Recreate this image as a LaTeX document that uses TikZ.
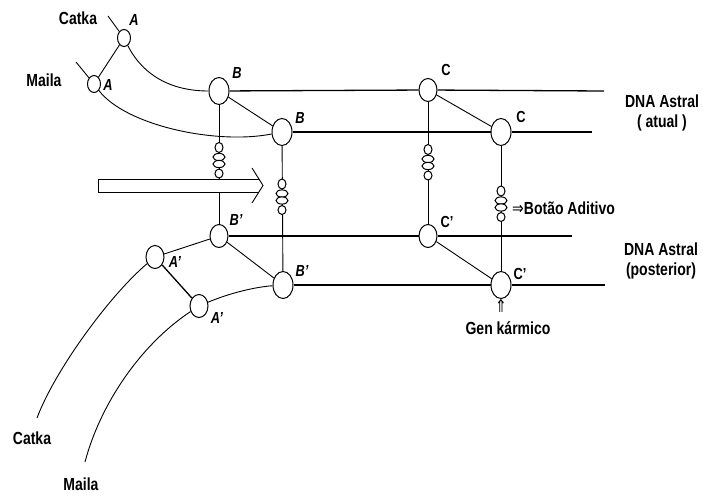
\documentclass[tikz,border=0pt]{standalone}
\usepackage{fontspec}
\setmainfont{Liberation Sans}[FakeStretch=0.8]
\newfontfamily\arrowfont{DejaVu Sans}[FakeStretch=0.8]
\usepackage{tikz}
\usetikzlibrary{shapes.geometric,positioning}
\tikzset{
  knot/.style={ellipse,draw,fill=white,line width=1pt,
    minimum width=18pt,minimum height=23pt,inner sep=0pt},
  bigknot/.style={knot,minimum width=20pt,minimum height=27pt},
  smallknot/.style={knot,minimum width=13pt,minimum height=17pt},
  strand/.style={line width=1.3pt},
  thinstrand/.style={line width=0.9pt},
  bead/.style={draw,fill=white,line width=1pt},
  lbl/.style={font=\fontsize{16}{18}\selectfont\bfseries\itshape,inner sep=0pt},
  clbl/.style={font=\fontsize{16}{18}\selectfont\bfseries,inner sep=0pt},
  txt/.style={font=\fontsize{17.5}{20}\selectfont\bfseries,align=center,inner sep=0pt},
}

\begin{document}
\begin{tikzpicture}[x=1pt,y=-1pt]
  \useasboundingbox (0,0) rectangle (703,495);

  \node[smallknot] (catkaA) at (124,38) {};
  \node[smallknot] (mailaA) at (94,84)  {};
  \node[bigknot]   (B1)     at (219,91) {};
  \node[bigknot]   (B2)     at (282,132) {};
  \node[knot]      (C1)     at (428,90) {};
  \node[bigknot]   (C2)     at (501,132) {};
  \node[knot]      (Bp1)    at (219,236) {};
  \node[bigknot]   (Bp2)    at (283,285) {};
  \node[knot]      (Ap1)    at (155,257) {};
  \node[knot]      (Ap2)    at (199,306) {};
  \node[knot]      (Cp1)    at (428,236) {};
  \node[bigknot]   (Cp2)    at (501,285) {};

  \coordinate (catkaEnd)  at (108,16);
  \coordinate (mailaEnd)  at (76,62);
  \coordinate (catkaTail) at (37,418);
  \coordinate (mailaTail) at (85,462);
  \coordinate (rowOneEnd)   at (604,91);
  \coordinate (rowTwoEnd)   at (592,132);
  \coordinate (rowThreeEnd) at (572,236);
  \coordinate (rowFourEnd)  at (605,285);

  \draw[thinstrand] (catkaEnd) -- (catkaA);
  \draw[thinstrand] (mailaEnd) -- (mailaA);
  \draw[thinstrand] (catkaA) -- (mailaA);
  \draw[thinstrand] (catkaA) .. controls (140,70) and (165,91) .. (B1);
  \draw[thinstrand] (mailaA) .. controls (125,125) and (215,145) .. (B2);
  \draw[thinstrand] (Ap1) .. controls (110,295) and (55,370) .. (catkaTail);
  \draw[thinstrand] (Ap2) .. controls (140,345) and (100,405) .. (mailaTail);

  \draw[strand] (B1) -- (C1);
  \draw[strand] (C1) -- (rowOneEnd);
  \draw[strand] (B2) -- (C2);
  \draw[strand] (C2) -- (rowTwoEnd);
  \draw[strand] (Bp1) -- (Cp1);
  \draw[strand] (Cp1) -- (rowThreeEnd);
  \draw[strand] (Bp2) -- (Cp2);
  \draw[strand] (Cp2) -- (rowFourEnd);

  \draw[thinstrand] (B1) -- (B2);
  \draw[thinstrand] (C1) -- (C2);
  \draw[thinstrand] (Bp1) -- (Bp2);
  \draw[thinstrand] (Cp1) -- (Cp2);
  \draw[strand] (Ap1) -- (Ap2);
  \draw[thinstrand] (Ap1) -- (Bp1);
  \draw[thinstrand] (Ap2) .. controls (230,293) and (255,287) .. (Bp2);

  \draw[thinstrand] (B1) -- (Bp1);
  \draw[thinstrand] (B2) -- (Bp2);
  \draw[thinstrand] (C1) -- (Cp1);
  \draw[thinstrand] (C2) -- (Cp2);

  \foreach \bx/\by in {219/160.5, 282/197, 428/162.5, 501/204}{
    \draw[bead] ({\bx},{\by-13}) ellipse [x radius=4pt,y radius=5pt];
    \draw[bead] ({\bx},{\by-3.5}) ellipse [x radius=6pt,y radius=3.6pt];
    \draw[bead] ({\bx},{\by+3.5}) ellipse [x radius=6pt,y radius=3.6pt];
    \draw[bead] ({\bx},{\by+13}) ellipse [x radius=4pt,y radius=4.5pt];
  }

  \fill[white] (98,179) rectangle (259,192);
  \draw[thinstrand] (259,179) -- (98,179) -- (98,192) -- (259,192);
  \draw[thinstrand] (252,168) -- (263,185.5) -- (252,203);

  \node[lbl]  (labA1)  at (134,20)  {A};
  \node[lbl]  (labA2)  at (108,85)  {A};
  \node[lbl]  (labB1)  at (237,73)  {B};
  \node[lbl]  (labB2)  at (300,118) {B};
  \node[clbl] (labC1)  at (446,70)  {C};
  \node[clbl] (labC2)  at (521,117) {C};
  \node[lbl]  (labBp1) at (236,220) {B'};
  \node[lbl]  (labBp2) at (302,271) {B'};
  \node[lbl]  (labAp1) at (175,262) {A'};
  \node[lbl]  (labAp2) at (217,318) {A'};
  \node[clbl] (labCp1) at (447,222) {C'};
  \node[clbl] (labCp2) at (520,274) {C'};

  \node[txt] (catkaTop) at (78,18)  {Catka};
  \node[txt] (mailaTop) at (44,80)  {Maila};
  \node[txt] (catkaBot) at (32,438) {Catka};
  \node[txt] (mailaBot) at (81,484) {Maila};
  \node[txt] (dnaAtual) at (662,113) {DNA Astral\\( atual )};
  \node[txt] (dnaPost)  at (661,261) {DNA Astral\\(posterior)};
  \node[txt,anchor=west] (botao) at (512,208) {{\arrowfont\mdseries ⇒}Botão Aditivo};
  \node[txt] (genArrow) at (501,306) {\arrowfont\mdseries ⇑};
  \node[txt] (gen)      at (508,328) {Gen kármico};
\end{tikzpicture}
\end{document}
